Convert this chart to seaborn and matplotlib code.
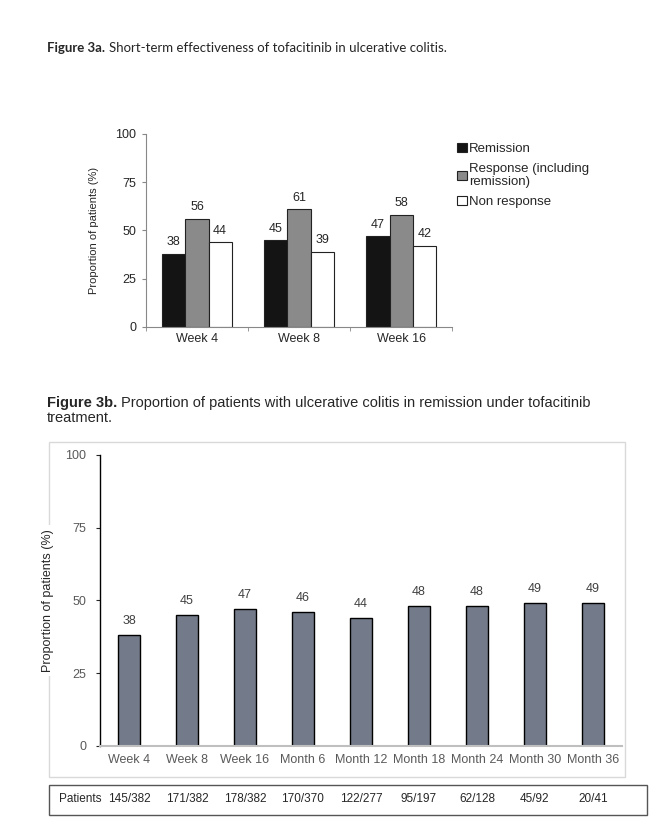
import pandas as pd
import matplotlib.pyplot as plt
import seaborn as sns
from matplotlib.patches import Rectangle

# Figure 3a data
weeks_a = ['Week 4', 'Week 8', 'Week 16']
remission = [38, 45, 47]
response = [56, 61, 58]
non_response = [44, 39, 42]
series_names = ['Remission', 'Response (including\nremission)', 'Non response']

# Figure 3b data
periods = ['Week 4', 'Week 8', 'Week 16', 'Month 6', 'Month 12', 'Month 18',
           'Month 24', 'Month 30', 'Month 36']
remission_long = [38, 45, 47, 46, 44, 48, 48, 49, 49]
patients = ['145/382', '171/382', '178/382', '170/370', '122/277', '95/197',
            '62/128', '45/92', '20/41']

sns.set_style('white')
plt.rcParams['font.family'] = ['Liberation Sans', 'DejaVu Sans']

fig = plt.figure(figsize=(6.5, 8.27), dpi=100)
renderer = fig.canvas.get_renderer()


def title_line(x, y, bold, rest, size, family):
    t = fig.text(x, y, bold, fontsize=size, fontweight='bold', family=family)
    bb = t.get_window_extent(renderer)
    fig.text(bb.x1 / fig.bbox.width + 0.006, y, rest, fontsize=size, family=family)


# ---------- Figure 3a ----------
title_line(0.072, 0.937, 'Figure 3a.',
           'Short-term effectiveness of tofacitinib in ulcerative colitis.', 9.5, 'Lato')

df_a = pd.DataFrame({
    'week': weeks_a * 3,
    'value': remission + response + non_response,
    'series': [series_names[0]] * 3 + [series_names[1]] * 3 + [series_names[2]] * 3,
})

ax1 = fig.add_axes([0.2246, 0.6046, 0.471, 0.2334])
sns.barplot(data=df_a, x='week', y='value', hue='series', ax=ax1,
            palette=['#141414', '#8a8a8a', '#ffffff'], width=0.68,
            edgecolor='#222222', linewidth=0.8, saturation=1)
for c in ax1.containers:
    ax1.bar_label(c, fmt='%d', padding=4, fontsize=9)
ax1.set_ylim(0, 100)
ax1.set_xlim(-0.5, 2.5)
ax1.set_yticks([0, 25, 50, 75, 100])
ax1.set_xlabel('')
ax1.set_ylabel('Proportion of patients (%)', fontsize=8, labelpad=12)
ax1.tick_params(axis='both', labelsize=9, length=0, pad=4)
ax1.tick_params(axis='y', length=3, direction='out', left=True, color='#888888')
ax1.set_xticks([-0.5, 0.5, 1.5, 2.5], minor=True)
ax1.tick_params(axis='x', which='minor', length=3, direction='out', bottom=True, color='#888888')
sns.despine(ax=ax1)
for s in ['left', 'bottom']:
    ax1.spines[s].set_color('#888888')
    ax1.spines[s].set_linewidth(0.8)
handles, labels = ax1.get_legend_handles_labels()
ax1.legend(handles, labels, loc='upper left', bbox_to_anchor=(1.0, 0.98), frameon=False,
           fontsize=9.5, handlelength=0.7, handleheight=0.7, handletextpad=0.2,
           labelspacing=0.55, borderaxespad=0)

# ---------- Figure 3b ----------
title_line(0.072, 0.508, 'Figure 3b.',
           'Proportion of patients with ulcerative colitis in remission under tofacitinib',
           10.5, 'Liberation Sans')
fig.text(0.072, 0.49, 'treatment.', fontsize=10.5)

fig.patches.append(Rectangle((0.075, 0.0605), 0.886, 0.405, transform=fig.transFigure,
                             fill=False, edgecolor='#d9d9d9', linewidth=1, zorder=-1))

df_b = pd.DataFrame({'period': periods, 'value': remission_long})
ax2 = fig.add_axes([0.1538, 0.098, 0.803, 0.352])
ax2.patch.set_alpha(0)
sns.barplot(data=df_b, x='period', y='value', ax=ax2, color='#737b8a', saturation=1,
            width=0.38, edgecolor='black', linewidth=1)
for c in ax2.containers:
    ax2.bar_label(c, fmt='%d', padding=6, fontsize=9, color='#404040')
ax2.set_ylim(0, 100)
ax2.set_xlim(-0.5, 8.5)
ax2.set_yticks([0, 25, 50, 75, 100])
ax2.set_xlabel('')
ax2.set_ylabel('Proportion of patients (%)', fontsize=9, labelpad=8,
               bbox=dict(facecolor='white', edgecolor='none', pad=3))
ax2.tick_params(axis='x', length=0, labelsize=9, labelcolor='#595959', pad=6)
ax2.tick_params(axis='y', length=3, direction='out', left=True, labelsize=9,
                labelcolor='#595959', pad=7)
sns.despine(ax=ax2)
ax2.spines['left'].set_color('black')
ax2.spines['left'].set_linewidth(1)
ax2.spines['bottom'].set_color('#bfbfbf')
ax2.spines['bottom'].set_linewidth(1.5)

# patients row
fig.patches.append(Rectangle((0.075, 0.0145), 0.92, 0.036, transform=fig.transFigure,
                             fill=False, edgecolor='#555555', linewidth=1))
fig.text(0.091, 0.034, 'Patients', fontsize=8.5, va='center')
for i, p in enumerate(patients):
    xf = ax2.transData.transform((i, 0))[0] / fig.bbox.width
    fig.text(xf, 0.034, p, fontsize=8.5, va='center', ha='center')

fig.savefig('out.png', dpi=100)
